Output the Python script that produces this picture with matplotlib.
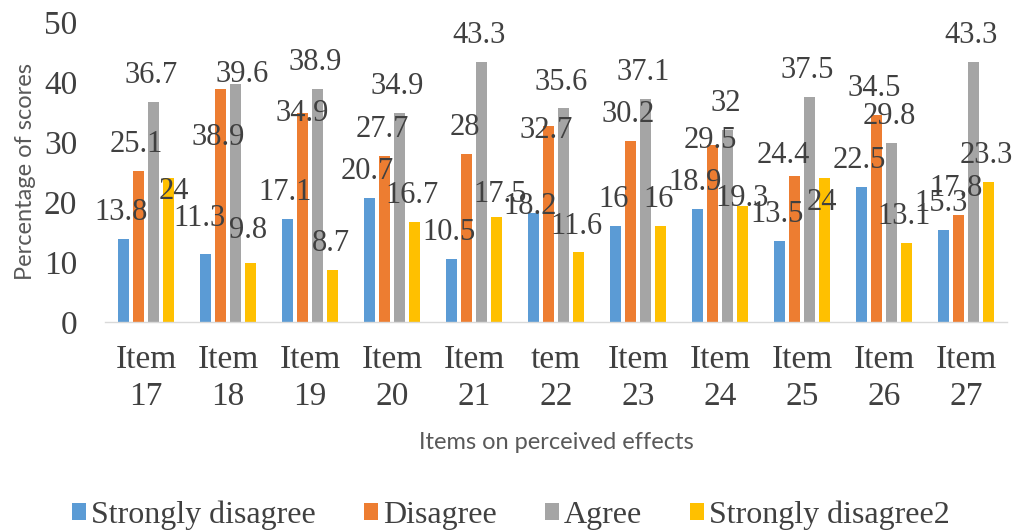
import numpy as np
import matplotlib
matplotlib.use("Agg")
import matplotlib.pyplot as plt

# Survey results per item (percent of respondents)
items = ["Item\n17", "Item\n18", "Item\n19", "Item\n20", "Item\n21", "tem\n22",
         "Item\n23", "Item\n24", "Item\n25", "Item\n26", "Item\n27"]
strongly_disagree = [13.8, 11.3, 17.1, 20.7, 10.5, 18.2, 16, 18.9, 13.5, 22.5, 15.3]
disagree = [25.1, 38.9, 34.9, 27.7, 28, 32.7, 30.2, 29.5, 24.4, 34.5, 17.8]
agree = [36.7, 39.6, 38.9, 34.9, 43.3, 35.6, 37.1, 32, 37.5, 29.8, 43.3]
strongly_disagree2 = [24, 9.8, 8.7, 16.7, 17.5, 11.6, 16, 19.3, 24, 13.1, 23.3]

series_names = ["Strongly disagree", "Disagree", "Agree", "Strongly disagree2"]
series_values = [strongly_disagree, disagree, agree, strongly_disagree2]
colors = ["#5B9BD5", "#ED7D31", "#A5A5A5", "#FFC000"]

# Label placement: default nudge (x in group units, y in data units),
# with a few labels sitting elsewhere
default_nudge = (-0.025, 4.4)
label_nudge = {
    (0, 3): (0.067, -2.3),
    (1, 0): (-0.067, 5.9),
    (1, 1): (-0.03, -8.1),
    (1, 2): (0.08, 1.6),
    (1, 3): (-0.03, 5.4),
    (2, 1): (-0.006, -0.2),
    (4, 3): (0.043, 3.8),
    (5, 0): (-0.043, 1.0),
    (5, 1): (-0.03, -0.7),
    (7, 1): (-0.03, 0.7),
    (7, 3): (-0.006, 1.3),
    (8, 1): (-0.14, 3.4),
    (8, 3): (-0.03, -4.0),
}

serif = "Liberation Serif"
sans = "Lato"
text_color = "#404040"

fig = plt.figure(figsize=(10.22, 5.32), dpi=100)
ax = fig.add_axes([105 / 1022, 1 - 322 / 532, 902 / 1022, 300 / 532])

x = np.arange(len(items))
bar_w = 0.146
step = 0.183
for s, (name, vals, col) in enumerate(zip(series_names, series_values, colors)):
    xs = x + (s - 1.5) * step
    ax.bar(xs, vals, width=bar_w, color=col, label=name, zorder=2)
    for i, v in enumerate(vals):
        dx, dy = label_nudge.get((i, s), default_nudge)
        ax.text(xs[i] + dx, v + dy, f"{v:g}", ha="center", va="center",
                fontfamily=serif, fontsize=22, color=text_color, zorder=3)

ax.set_xlim(-0.5, len(items) - 0.5)
ax.set_ylim(0, 50)
ax.set_yticks(range(0, 51, 10))
ax.set_xticks(x)
ax.set_xticklabels(items, fontfamily=serif, fontsize=24, color=text_color,
                   linespacing=1.3)
for lab in ax.get_yticklabels():
    lab.set_fontfamily(serif)
    lab.set_fontsize(24)
    lab.set_color(text_color)
ax.tick_params(axis="both", length=0)
ax.tick_params(axis="y", pad=20)
ax.tick_params(axis="x", pad=16)

for side in ["top", "right", "left"]:
    ax.spines[side].set_visible(False)
ax.spines["bottom"].set_color("#D9D9D9")
ax.spines["bottom"].set_linewidth(1.0)

ax.set_ylabel("Percentage of scores", fontfamily=sans, fontsize=17,
              color="#595959", labelpad=6)
ax.set_xlabel("Items on perceived effects", fontfamily=sans, fontsize=17,
              color="#595959", labelpad=14)

fig.legend(loc="center", bbox_to_anchor=(0.5, 1 - 515 / 532), ncol=4,
           frameon=False, prop={"family": serif, "size": 23},
           handlelength=0.45, handleheight=0.45, handletextpad=0.15,
           columnspacing=1.5, labelcolor=text_color, borderpad=0)

fig.savefig("out.png", dpi=100)
